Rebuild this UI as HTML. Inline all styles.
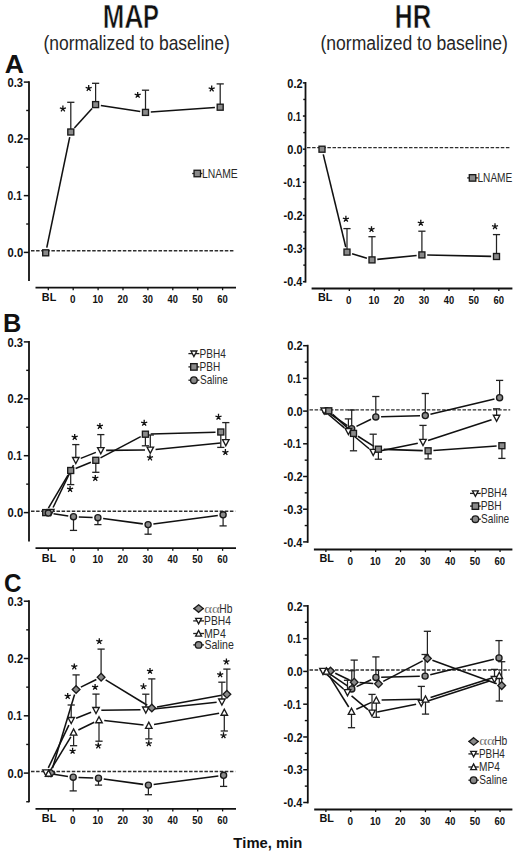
<!DOCTYPE html><html><head><meta charset="utf-8"><style>html,body{margin:0;padding:0;background:#fff;overflow:hidden;}svg{display:block;}text{font-family:"Liberation Sans",sans-serif;font-kerning:none;}</style></head><body>
<svg width="520" height="854" viewBox="0 0 520 854">
<text transform="translate(102.67,27.90) scale(0.7778,1)" font-size="33.28" font-weight="bold" fill="#111" stroke="#fff" stroke-width="0.6">M</text>
<text transform="translate(124.24,27.90) scale(0.8017,1)" font-size="33.28" font-weight="bold" fill="#111" stroke="#fff" stroke-width="0.6">A</text>
<text transform="translate(143.00,27.90) scale(0.7168,1)" font-size="33.28" font-weight="bold" fill="#111" stroke="#fff" stroke-width="0.6">P</text>
<text transform="translate(394.65,27.90) scale(0.7411,1)" font-size="33.28" font-weight="bold" fill="#111" stroke="#fff" stroke-width="0.6">H</text>
<text transform="translate(412.78,27.90) scale(0.7716,1)" font-size="33.28" font-weight="bold" fill="#111" stroke="#fff" stroke-width="0.6">R</text>
<text transform="translate(43.42,50.40) scale(0.8565,1)" font-size="20.4" font-weight="normal" fill="#262626">(normalized to baseline)</text>
<text transform="translate(320.51,50.40) scale(0.8612,1)" font-size="20.4" font-weight="normal" fill="#262626">(normalized to baseline)</text>
<text transform="translate(4.64,72.80) scale(1.0446,1)" font-size="25.4" font-weight="bold" fill="#111">A</text>
<text transform="translate(3.00,332.20) scale(1.0006,1)" font-size="25.4" font-weight="bold" fill="#111">B</text>
<text transform="translate(4.11,591.90) scale(0.9514,1)" font-size="25.4" font-weight="bold" fill="#111">C</text>
<text transform="translate(233.33,847.70) scale(1.0572,1)" font-size="14.0" font-weight="bold" fill="#111">Time, min</text>
<line x1="29.00" y1="81.20" x2="29.00" y2="281.00" stroke="#111" stroke-width="1.8"/>
<line x1="23.80" y1="82.10" x2="29.00" y2="82.10" stroke="#111" stroke-width="1.5"/>
<line x1="23.80" y1="138.87" x2="29.00" y2="138.87" stroke="#111" stroke-width="1.5"/>
<line x1="23.80" y1="195.63" x2="29.00" y2="195.63" stroke="#111" stroke-width="1.5"/>
<line x1="23.80" y1="252.40" x2="29.00" y2="252.40" stroke="#111" stroke-width="1.5"/>
<line x1="26.20" y1="110.48" x2="29.00" y2="110.48" stroke="#111" stroke-width="1.4"/>
<line x1="26.20" y1="167.25" x2="29.00" y2="167.25" stroke="#111" stroke-width="1.4"/>
<line x1="26.20" y1="224.02" x2="29.00" y2="224.02" stroke="#111" stroke-width="1.4"/>
<text transform="translate(7.56,86.70) scale(0.9167,1)" font-size="12.2" font-weight="bold" fill="#111">0.3</text>
<text transform="translate(7.56,143.47) scale(0.9194,1)" font-size="12.2" font-weight="bold" fill="#111">0.2</text>
<text transform="translate(7.59,200.23) scale(0.8428,1)" font-size="12.2" font-weight="bold" fill="#111">0.1</text>
<text transform="translate(7.56,257.00) scale(0.9201,1)" font-size="12.2" font-weight="bold" fill="#111">0.0</text>
<line x1="35.50" y1="287.60" x2="236.00" y2="287.60" stroke="#111" stroke-width="1.8"/>
<line x1="48.30" y1="287.60" x2="48.30" y2="290.20" stroke="#111" stroke-width="1.3"/>
<line x1="73.20" y1="287.60" x2="73.20" y2="290.20" stroke="#111" stroke-width="1.3"/>
<line x1="98.10" y1="287.60" x2="98.10" y2="290.20" stroke="#111" stroke-width="1.3"/>
<line x1="123.00" y1="287.60" x2="123.00" y2="290.20" stroke="#111" stroke-width="1.3"/>
<line x1="147.90" y1="287.60" x2="147.90" y2="290.20" stroke="#111" stroke-width="1.3"/>
<line x1="172.80" y1="287.60" x2="172.80" y2="290.20" stroke="#111" stroke-width="1.3"/>
<line x1="197.70" y1="287.60" x2="197.70" y2="290.20" stroke="#111" stroke-width="1.3"/>
<line x1="222.60" y1="287.60" x2="222.60" y2="290.20" stroke="#111" stroke-width="1.3"/>
<text transform="translate(41.87,300.90) scale(0.9351,1)" font-size="11.6" font-weight="bold" fill="#111">BL</text>
<text transform="translate(69.96,302.80) scale(0.9067,1)" font-size="10.9" font-weight="bold" fill="#111">0</text>
<text transform="translate(92.39,302.80) scale(0.8917,1)" font-size="10.9" font-weight="bold" fill="#111">10</text>
<text transform="translate(117.57,302.80) scale(0.8673,1)" font-size="10.9" font-weight="bold" fill="#111">20</text>
<text transform="translate(142.59,302.80) scale(0.8576,1)" font-size="10.9" font-weight="bold" fill="#111">30</text>
<text transform="translate(167.56,302.80) scale(0.8513,1)" font-size="10.9" font-weight="bold" fill="#111">40</text>
<text transform="translate(192.31,302.80) scale(0.8641,1)" font-size="10.9" font-weight="bold" fill="#111">50</text>
<text transform="translate(217.15,302.80) scale(0.8690,1)" font-size="10.9" font-weight="bold" fill="#111">60</text>
<line x1="31.00" y1="250.80" x2="234.00" y2="250.80" stroke="#2e2e2e" stroke-width="1.4" stroke-dasharray="3.5 1.6"/>
<line x1="46.78" y1="247.61" x2="69.72" y2="137.19" stroke="#111" stroke-width="1.55"/>
<line x1="74.36" y1="128.07" x2="92.04" y2="108.53" stroke="#111" stroke-width="1.55"/>
<line x1="100.84" y1="105.42" x2="140.26" y2="111.58" stroke="#111" stroke-width="1.55"/>
<line x1="150.79" y1="112.03" x2="214.91" y2="107.57" stroke="#111" stroke-width="1.55"/>
<line x1="70.80" y1="132.00" x2="70.80" y2="102.30" stroke="#222" stroke-width="1.25"/>
<line x1="67.20" y1="102.30" x2="74.40" y2="102.30" stroke="#222" stroke-width="1.3"/>
<line x1="95.60" y1="104.60" x2="95.60" y2="83.30" stroke="#222" stroke-width="1.25"/>
<line x1="92.00" y1="83.30" x2="99.20" y2="83.30" stroke="#222" stroke-width="1.3"/>
<line x1="145.50" y1="112.40" x2="145.50" y2="90.20" stroke="#222" stroke-width="1.25"/>
<line x1="141.90" y1="90.20" x2="149.10" y2="90.20" stroke="#222" stroke-width="1.3"/>
<line x1="220.20" y1="107.20" x2="220.20" y2="83.90" stroke="#222" stroke-width="1.25"/>
<line x1="216.60" y1="83.90" x2="223.80" y2="83.90" stroke="#222" stroke-width="1.3"/>
<rect x="42.70" y="249.80" width="6.00" height="6.00" fill="#8a8a8a" stroke="#1a1a1a" stroke-width="1.35"/>
<rect x="67.80" y="129.00" width="6.00" height="6.00" fill="#8a8a8a" stroke="#1a1a1a" stroke-width="1.35"/>
<rect x="92.60" y="101.60" width="6.00" height="6.00" fill="#8a8a8a" stroke="#1a1a1a" stroke-width="1.35"/>
<rect x="142.50" y="109.40" width="6.00" height="6.00" fill="#8a8a8a" stroke="#1a1a1a" stroke-width="1.35"/>
<rect x="217.20" y="104.20" width="6.00" height="6.00" fill="#8a8a8a" stroke="#1a1a1a" stroke-width="1.35"/>
<path d="M62.90,108.80L62.90,105.60M62.90,108.80L65.94,107.81M62.90,108.80L64.78,111.39M62.90,108.80L61.02,111.39M62.90,108.80L59.86,107.81" stroke="#111" stroke-width="1.3" fill="none"/>
<path d="M88.70,88.30L88.70,85.10M88.70,88.30L91.74,87.31M88.70,88.30L90.58,90.89M88.70,88.30L86.82,90.89M88.70,88.30L85.66,87.31" stroke="#111" stroke-width="1.3" fill="none"/>
<path d="M137.70,95.10L137.70,91.90M137.70,95.10L140.74,94.11M137.70,95.10L139.58,97.69M137.70,95.10L135.82,97.69M137.70,95.10L134.66,94.11" stroke="#111" stroke-width="1.3" fill="none"/>
<path d="M211.70,88.80L211.70,85.60M211.70,88.80L214.74,87.81M211.70,88.80L213.58,91.39M211.70,88.80L209.82,91.39M211.70,88.80L208.66,87.81" stroke="#111" stroke-width="1.3" fill="none"/>
<line x1="192.20" y1="173.50" x2="202.40" y2="173.50" stroke="#222" stroke-width="1.3"/>
<rect x="194.06" y="170.26" width="6.48" height="6.48" fill="#8a8a8a" stroke="#1a1a1a" stroke-width="1.35"/>
<text transform="translate(201.95,177.50) scale(0.8659,1)" font-size="12" font-weight="normal" fill="#2a2a2a">LNAME</text>
<line x1="29.00" y1="341.00" x2="29.00" y2="541.50" stroke="#111" stroke-width="1.8"/>
<line x1="23.80" y1="341.90" x2="29.00" y2="341.90" stroke="#111" stroke-width="1.5"/>
<line x1="23.80" y1="398.80" x2="29.00" y2="398.80" stroke="#111" stroke-width="1.5"/>
<line x1="23.80" y1="455.70" x2="29.00" y2="455.70" stroke="#111" stroke-width="1.5"/>
<line x1="23.80" y1="512.60" x2="29.00" y2="512.60" stroke="#111" stroke-width="1.5"/>
<line x1="26.20" y1="370.35" x2="29.00" y2="370.35" stroke="#111" stroke-width="1.4"/>
<line x1="26.20" y1="427.25" x2="29.00" y2="427.25" stroke="#111" stroke-width="1.4"/>
<line x1="26.20" y1="484.15" x2="29.00" y2="484.15" stroke="#111" stroke-width="1.4"/>
<text transform="translate(7.56,346.50) scale(0.9167,1)" font-size="12.2" font-weight="bold" fill="#111">0.3</text>
<text transform="translate(7.56,403.40) scale(0.9194,1)" font-size="12.2" font-weight="bold" fill="#111">0.2</text>
<text transform="translate(7.59,460.30) scale(0.8428,1)" font-size="12.2" font-weight="bold" fill="#111">0.1</text>
<text transform="translate(7.56,517.20) scale(0.9201,1)" font-size="12.2" font-weight="bold" fill="#111">0.0</text>
<line x1="35.50" y1="548.20" x2="236.00" y2="548.20" stroke="#111" stroke-width="1.8"/>
<line x1="48.30" y1="548.20" x2="48.30" y2="550.80" stroke="#111" stroke-width="1.3"/>
<line x1="73.20" y1="548.20" x2="73.20" y2="550.80" stroke="#111" stroke-width="1.3"/>
<line x1="98.10" y1="548.20" x2="98.10" y2="550.80" stroke="#111" stroke-width="1.3"/>
<line x1="123.00" y1="548.20" x2="123.00" y2="550.80" stroke="#111" stroke-width="1.3"/>
<line x1="147.90" y1="548.20" x2="147.90" y2="550.80" stroke="#111" stroke-width="1.3"/>
<line x1="172.80" y1="548.20" x2="172.80" y2="550.80" stroke="#111" stroke-width="1.3"/>
<line x1="197.70" y1="548.20" x2="197.70" y2="550.80" stroke="#111" stroke-width="1.3"/>
<line x1="222.60" y1="548.20" x2="222.60" y2="550.80" stroke="#111" stroke-width="1.3"/>
<text transform="translate(41.87,561.50) scale(0.9351,1)" font-size="11.6" font-weight="bold" fill="#111">BL</text>
<text transform="translate(69.96,563.00) scale(0.9067,1)" font-size="10.9" font-weight="bold" fill="#111">0</text>
<text transform="translate(92.39,563.00) scale(0.8917,1)" font-size="10.9" font-weight="bold" fill="#111">10</text>
<text transform="translate(117.57,563.00) scale(0.8673,1)" font-size="10.9" font-weight="bold" fill="#111">20</text>
<text transform="translate(142.59,563.00) scale(0.8576,1)" font-size="10.9" font-weight="bold" fill="#111">30</text>
<text transform="translate(167.56,563.00) scale(0.8513,1)" font-size="10.9" font-weight="bold" fill="#111">40</text>
<text transform="translate(192.31,563.00) scale(0.8641,1)" font-size="10.9" font-weight="bold" fill="#111">50</text>
<text transform="translate(217.15,563.00) scale(0.8690,1)" font-size="10.9" font-weight="bold" fill="#111">60</text>
<line x1="31.00" y1="511.20" x2="235.20" y2="511.20" stroke="#2e2e2e" stroke-width="1.4" stroke-dasharray="3.5 1.6"/>
<line x1="53.10" y1="507.52" x2="73.50" y2="465.08" stroke="#111" stroke-width="1.55"/>
<line x1="80.73" y1="458.35" x2="95.87" y2="452.35" stroke="#111" stroke-width="1.55"/>
<line x1="106.10" y1="450.36" x2="145.00" y2="450.04" stroke="#111" stroke-width="1.55"/>
<line x1="155.57" y1="449.48" x2="220.53" y2="443.02" stroke="#111" stroke-width="1.55"/>
<line x1="48.41" y1="508.04" x2="67.99" y2="475.06" stroke="#111" stroke-width="1.55"/>
<line x1="75.61" y1="468.50" x2="90.89" y2="462.30" stroke="#111" stroke-width="1.55"/>
<line x1="100.49" y1="457.83" x2="140.71" y2="436.67" stroke="#111" stroke-width="1.55"/>
<line x1="150.70" y1="434.05" x2="215.50" y2="432.15" stroke="#111" stroke-width="1.55"/>
<line x1="53.54" y1="513.77" x2="68.26" y2="515.93" stroke="#111" stroke-width="1.55"/>
<line x1="78.80" y1="516.92" x2="92.60" y2="517.48" stroke="#111" stroke-width="1.55"/>
<line x1="103.15" y1="518.42" x2="142.85" y2="523.88" stroke="#111" stroke-width="1.55"/>
<line x1="153.36" y1="523.91" x2="217.84" y2="515.49" stroke="#111" stroke-width="1.55"/>
<line x1="73.50" y1="516.70" x2="73.50" y2="530.40" stroke="#222" stroke-width="1.25"/>
<line x1="69.90" y1="530.40" x2="77.10" y2="530.40" stroke="#222" stroke-width="1.3"/>
<line x1="97.90" y1="517.70" x2="97.90" y2="524.60" stroke="#222" stroke-width="1.25"/>
<line x1="94.30" y1="524.60" x2="101.50" y2="524.60" stroke="#222" stroke-width="1.3"/>
<line x1="148.10" y1="524.60" x2="148.10" y2="534.20" stroke="#222" stroke-width="1.25"/>
<line x1="144.50" y1="534.20" x2="151.70" y2="534.20" stroke="#222" stroke-width="1.3"/>
<line x1="223.10" y1="514.80" x2="223.10" y2="525.90" stroke="#222" stroke-width="1.25"/>
<line x1="219.50" y1="525.90" x2="226.70" y2="525.90" stroke="#222" stroke-width="1.3"/>
<line x1="70.70" y1="470.50" x2="70.70" y2="484.60" stroke="#222" stroke-width="1.25"/>
<line x1="67.10" y1="484.60" x2="74.30" y2="484.60" stroke="#222" stroke-width="1.3"/>
<line x1="95.80" y1="460.30" x2="95.80" y2="472.30" stroke="#222" stroke-width="1.25"/>
<line x1="92.20" y1="472.30" x2="99.40" y2="472.30" stroke="#222" stroke-width="1.3"/>
<line x1="145.40" y1="434.20" x2="145.40" y2="445.80" stroke="#222" stroke-width="1.25"/>
<line x1="141.80" y1="445.80" x2="149.00" y2="445.80" stroke="#222" stroke-width="1.3"/>
<line x1="220.80" y1="432.00" x2="220.80" y2="447.40" stroke="#222" stroke-width="1.25"/>
<line x1="217.20" y1="447.40" x2="224.40" y2="447.40" stroke="#222" stroke-width="1.3"/>
<line x1="75.80" y1="460.30" x2="75.80" y2="444.60" stroke="#222" stroke-width="1.25"/>
<line x1="72.20" y1="444.60" x2="79.40" y2="444.60" stroke="#222" stroke-width="1.3"/>
<line x1="100.80" y1="450.40" x2="100.80" y2="434.60" stroke="#222" stroke-width="1.25"/>
<line x1="97.20" y1="434.60" x2="104.40" y2="434.60" stroke="#222" stroke-width="1.3"/>
<line x1="150.30" y1="450.00" x2="150.30" y2="435.00" stroke="#222" stroke-width="1.25"/>
<line x1="146.70" y1="435.00" x2="153.90" y2="435.00" stroke="#222" stroke-width="1.3"/>
<line x1="225.80" y1="442.50" x2="225.80" y2="422.60" stroke="#222" stroke-width="1.25"/>
<line x1="222.20" y1="422.60" x2="229.40" y2="422.60" stroke="#222" stroke-width="1.3"/>
<rect x="42.70" y="509.60" width="6.00" height="6.00" fill="#8a8a8a" stroke="#1a1a1a" stroke-width="1.35"/>
<rect x="67.70" y="467.50" width="6.00" height="6.00" fill="#8a8a8a" stroke="#1a1a1a" stroke-width="1.35"/>
<rect x="92.80" y="457.30" width="6.00" height="6.00" fill="#8a8a8a" stroke="#1a1a1a" stroke-width="1.35"/>
<rect x="142.40" y="431.20" width="6.00" height="6.00" fill="#8a8a8a" stroke="#1a1a1a" stroke-width="1.35"/>
<rect x="217.80" y="429.00" width="6.00" height="6.00" fill="#8a8a8a" stroke="#1a1a1a" stroke-width="1.35"/>
<path d="M47.55,509.45H54.05L50.80,515.60Z" fill="#fff" stroke="#1a1a1a" stroke-width="1.35"/>
<path d="M72.55,457.45H79.05L75.80,463.60Z" fill="#fff" stroke="#1a1a1a" stroke-width="1.35"/>
<path d="M97.55,447.55H104.05L100.80,453.70Z" fill="#fff" stroke="#1a1a1a" stroke-width="1.35"/>
<path d="M147.05,447.15H153.55L150.30,453.30Z" fill="#fff" stroke="#1a1a1a" stroke-width="1.35"/>
<path d="M222.55,439.65H229.05L225.80,445.80Z" fill="#fff" stroke="#1a1a1a" stroke-width="1.35"/>
<circle cx="48.30" cy="513.00" r="3.05" fill="#8a8a8a" stroke="#1a1a1a" stroke-width="1.35"/>
<circle cx="73.50" cy="516.70" r="3.05" fill="#8a8a8a" stroke="#1a1a1a" stroke-width="1.35"/>
<circle cx="97.90" cy="517.70" r="3.05" fill="#8a8a8a" stroke="#1a1a1a" stroke-width="1.35"/>
<circle cx="148.10" cy="524.60" r="3.05" fill="#8a8a8a" stroke="#1a1a1a" stroke-width="1.35"/>
<circle cx="223.10" cy="514.80" r="3.05" fill="#8a8a8a" stroke="#1a1a1a" stroke-width="1.35"/>
<path d="M74.70,437.20L74.70,434.00M74.70,437.20L77.74,436.21M74.70,437.20L76.58,439.79M74.70,437.20L72.82,439.79M74.70,437.20L71.66,436.21" stroke="#111" stroke-width="1.3" fill="none"/>
<path d="M99.90,426.20L99.90,423.00M99.90,426.20L102.94,425.21M99.90,426.20L101.78,428.79M99.90,426.20L98.02,428.79M99.90,426.20L96.86,425.21" stroke="#111" stroke-width="1.3" fill="none"/>
<path d="M150.00,457.70L150.00,454.50M150.00,457.70L153.04,456.71M150.00,457.70L151.88,460.29M150.00,457.70L148.12,460.29M150.00,457.70L146.96,456.71" stroke="#111" stroke-width="1.3" fill="none"/>
<path d="M225.40,452.30L225.40,449.10M225.40,452.30L228.44,451.31M225.40,452.30L227.28,454.89M225.40,452.30L223.52,454.89M225.40,452.30L222.36,451.31" stroke="#111" stroke-width="1.3" fill="none"/>
<path d="M70.10,489.20L70.10,486.00M70.10,489.20L73.14,488.21M70.10,489.20L71.98,491.79M70.10,489.20L68.22,491.79M70.10,489.20L67.06,488.21" stroke="#111" stroke-width="1.3" fill="none"/>
<path d="M95.30,478.20L95.30,475.00M95.30,478.20L98.34,477.21M95.30,478.20L97.18,480.79M95.30,478.20L93.42,480.79M95.30,478.20L92.26,477.21" stroke="#111" stroke-width="1.3" fill="none"/>
<path d="M144.20,423.00L144.20,419.80M144.20,423.00L147.24,422.01M144.20,423.00L146.08,425.59M144.20,423.00L142.32,425.59M144.20,423.00L141.16,422.01" stroke="#111" stroke-width="1.3" fill="none"/>
<path d="M218.50,417.00L218.50,413.80M218.50,417.00L221.54,416.01M218.50,417.00L220.38,419.59M218.50,417.00L216.62,419.59M218.50,417.00L215.46,416.01" stroke="#111" stroke-width="1.3" fill="none"/>
<line x1="188.40" y1="353.60" x2="199.40" y2="353.60" stroke="#222" stroke-width="1.3"/>
<path d="M190.97,351.04H196.83L193.90,356.57Z" fill="#fff" stroke="#1a1a1a" stroke-width="1.35"/>
<text transform="translate(199.57,357.60) scale(0.8397,1)" font-size="12" font-weight="normal" fill="#2a2a2a">PBH4</text>
<line x1="188.40" y1="366.90" x2="199.40" y2="366.90" stroke="#222" stroke-width="1.3"/>
<rect x="190.66" y="363.66" width="6.48" height="6.48" fill="#8a8a8a" stroke="#1a1a1a" stroke-width="1.35"/>
<text transform="translate(199.57,370.90) scale(0.8410,1)" font-size="12" font-weight="normal" fill="#2a2a2a">PBH</text>
<line x1="188.40" y1="380.20" x2="199.40" y2="380.20" stroke="#222" stroke-width="1.3"/>
<circle cx="193.90" cy="380.20" r="3.29" fill="#8a8a8a" stroke="#1a1a1a" stroke-width="1.35"/>
<text transform="translate(199.94,384.20) scale(0.8364,1)" font-size="12" font-weight="normal" fill="#2a2a2a">Saline</text>
<line x1="29.00" y1="600.30" x2="29.00" y2="802.30" stroke="#111" stroke-width="1.8"/>
<line x1="23.80" y1="601.20" x2="29.00" y2="601.20" stroke="#111" stroke-width="1.5"/>
<line x1="23.80" y1="658.50" x2="29.00" y2="658.50" stroke="#111" stroke-width="1.5"/>
<line x1="23.80" y1="715.80" x2="29.00" y2="715.80" stroke="#111" stroke-width="1.5"/>
<line x1="23.80" y1="773.10" x2="29.00" y2="773.10" stroke="#111" stroke-width="1.5"/>
<line x1="26.20" y1="629.85" x2="29.00" y2="629.85" stroke="#111" stroke-width="1.4"/>
<line x1="26.20" y1="687.15" x2="29.00" y2="687.15" stroke="#111" stroke-width="1.4"/>
<line x1="26.20" y1="744.45" x2="29.00" y2="744.45" stroke="#111" stroke-width="1.4"/>
<line x1="26.20" y1="801.75" x2="29.00" y2="801.75" stroke="#111" stroke-width="1.4"/>
<text transform="translate(7.56,605.80) scale(0.9167,1)" font-size="12.2" font-weight="bold" fill="#111">0.3</text>
<text transform="translate(7.56,663.10) scale(0.9194,1)" font-size="12.2" font-weight="bold" fill="#111">0.2</text>
<text transform="translate(7.59,720.40) scale(0.8428,1)" font-size="12.2" font-weight="bold" fill="#111">0.1</text>
<text transform="translate(7.56,777.70) scale(0.9201,1)" font-size="12.2" font-weight="bold" fill="#111">0.0</text>
<line x1="35.50" y1="808.80" x2="236.00" y2="808.80" stroke="#111" stroke-width="1.8"/>
<line x1="48.30" y1="808.80" x2="48.30" y2="811.40" stroke="#111" stroke-width="1.3"/>
<line x1="73.20" y1="808.80" x2="73.20" y2="811.40" stroke="#111" stroke-width="1.3"/>
<line x1="98.10" y1="808.80" x2="98.10" y2="811.40" stroke="#111" stroke-width="1.3"/>
<line x1="123.00" y1="808.80" x2="123.00" y2="811.40" stroke="#111" stroke-width="1.3"/>
<line x1="147.90" y1="808.80" x2="147.90" y2="811.40" stroke="#111" stroke-width="1.3"/>
<line x1="172.80" y1="808.80" x2="172.80" y2="811.40" stroke="#111" stroke-width="1.3"/>
<line x1="197.70" y1="808.80" x2="197.70" y2="811.40" stroke="#111" stroke-width="1.3"/>
<line x1="222.60" y1="808.80" x2="222.60" y2="811.40" stroke="#111" stroke-width="1.3"/>
<text transform="translate(41.87,822.30) scale(0.9351,1)" font-size="11.6" font-weight="bold" fill="#111">BL</text>
<text transform="translate(69.96,823.60) scale(0.9067,1)" font-size="10.9" font-weight="bold" fill="#111">0</text>
<text transform="translate(92.39,823.60) scale(0.8917,1)" font-size="10.9" font-weight="bold" fill="#111">10</text>
<text transform="translate(117.57,823.60) scale(0.8673,1)" font-size="10.9" font-weight="bold" fill="#111">20</text>
<text transform="translate(142.59,823.60) scale(0.8576,1)" font-size="10.9" font-weight="bold" fill="#111">30</text>
<text transform="translate(167.56,823.60) scale(0.8513,1)" font-size="10.9" font-weight="bold" fill="#111">40</text>
<text transform="translate(192.31,823.60) scale(0.8641,1)" font-size="10.9" font-weight="bold" fill="#111">50</text>
<text transform="translate(217.15,823.60) scale(0.8690,1)" font-size="10.9" font-weight="bold" fill="#111">60</text>
<line x1="31.00" y1="771.50" x2="235.20" y2="771.50" stroke="#2e2e2e" stroke-width="1.4" stroke-dasharray="3.5 1.6"/>
<line x1="52.53" y1="767.92" x2="74.57" y2="694.58" stroke="#111" stroke-width="1.55"/>
<line x1="80.86" y1="687.16" x2="96.34" y2="679.54" stroke="#111" stroke-width="1.55"/>
<line x1="105.63" y1="679.95" x2="147.27" y2="705.25" stroke="#111" stroke-width="1.55"/>
<line x1="157.01" y1="707.05" x2="221.69" y2="695.25" stroke="#111" stroke-width="1.55"/>
<line x1="48.30" y1="767.92" x2="68.90" y2="725.08" stroke="#111" stroke-width="1.55"/>
<line x1="76.12" y1="718.32" x2="91.08" y2="712.28" stroke="#111" stroke-width="1.55"/>
<line x1="101.30" y1="710.25" x2="140.50" y2="709.85" stroke="#111" stroke-width="1.55"/>
<line x1="151.07" y1="709.25" x2="216.63" y2="702.35" stroke="#111" stroke-width="1.55"/>
<line x1="51.35" y1="768.87" x2="70.85" y2="736.83" stroke="#111" stroke-width="1.55"/>
<line x1="78.36" y1="729.97" x2="94.24" y2="722.23" stroke="#111" stroke-width="1.55"/>
<line x1="104.27" y1="720.49" x2="143.53" y2="724.91" stroke="#111" stroke-width="1.55"/>
<line x1="154.02" y1="724.59" x2="219.08" y2="713.31" stroke="#111" stroke-width="1.55"/>
<line x1="53.74" y1="774.29" x2="67.96" y2="776.41" stroke="#111" stroke-width="1.55"/>
<line x1="78.50" y1="777.41" x2="93.20" y2="777.99" stroke="#111" stroke-width="1.55"/>
<line x1="103.75" y1="778.93" x2="143.15" y2="784.37" stroke="#111" stroke-width="1.55"/>
<line x1="153.66" y1="784.42" x2="218.34" y2="775.98" stroke="#111" stroke-width="1.55"/>
<line x1="73.20" y1="777.20" x2="73.20" y2="790.90" stroke="#222" stroke-width="1.25"/>
<line x1="69.60" y1="790.90" x2="76.80" y2="790.90" stroke="#222" stroke-width="1.3"/>
<line x1="98.50" y1="778.20" x2="98.50" y2="785.10" stroke="#222" stroke-width="1.25"/>
<line x1="94.90" y1="785.10" x2="102.10" y2="785.10" stroke="#222" stroke-width="1.3"/>
<line x1="148.40" y1="785.10" x2="148.40" y2="794.70" stroke="#222" stroke-width="1.25"/>
<line x1="144.80" y1="794.70" x2="152.00" y2="794.70" stroke="#222" stroke-width="1.3"/>
<line x1="223.60" y1="775.30" x2="223.60" y2="786.40" stroke="#222" stroke-width="1.25"/>
<line x1="220.00" y1="786.40" x2="227.20" y2="786.40" stroke="#222" stroke-width="1.3"/>
<line x1="73.60" y1="732.30" x2="73.60" y2="745.70" stroke="#222" stroke-width="1.25"/>
<line x1="70.00" y1="745.70" x2="77.20" y2="745.70" stroke="#222" stroke-width="1.3"/>
<line x1="99.00" y1="719.90" x2="99.00" y2="741.20" stroke="#222" stroke-width="1.25"/>
<line x1="95.40" y1="741.20" x2="102.60" y2="741.20" stroke="#222" stroke-width="1.3"/>
<line x1="148.80" y1="725.50" x2="148.80" y2="738.90" stroke="#222" stroke-width="1.25"/>
<line x1="145.20" y1="738.90" x2="152.40" y2="738.90" stroke="#222" stroke-width="1.3"/>
<line x1="224.30" y1="712.40" x2="224.30" y2="731.00" stroke="#222" stroke-width="1.25"/>
<line x1="220.70" y1="731.00" x2="227.90" y2="731.00" stroke="#222" stroke-width="1.3"/>
<line x1="71.20" y1="720.30" x2="71.20" y2="705.00" stroke="#222" stroke-width="1.25"/>
<line x1="67.60" y1="705.00" x2="74.80" y2="705.00" stroke="#222" stroke-width="1.3"/>
<line x1="96.00" y1="710.30" x2="96.00" y2="694.10" stroke="#222" stroke-width="1.25"/>
<line x1="92.40" y1="694.10" x2="99.60" y2="694.10" stroke="#222" stroke-width="1.3"/>
<line x1="145.80" y1="709.80" x2="145.80" y2="694.20" stroke="#222" stroke-width="1.25"/>
<line x1="142.20" y1="694.20" x2="149.40" y2="694.20" stroke="#222" stroke-width="1.3"/>
<line x1="221.90" y1="701.80" x2="221.90" y2="682.20" stroke="#222" stroke-width="1.25"/>
<line x1="218.30" y1="682.20" x2="225.50" y2="682.20" stroke="#222" stroke-width="1.3"/>
<line x1="76.10" y1="689.50" x2="76.10" y2="674.90" stroke="#222" stroke-width="1.25"/>
<line x1="72.50" y1="674.90" x2="79.70" y2="674.90" stroke="#222" stroke-width="1.3"/>
<line x1="101.10" y1="677.20" x2="101.10" y2="649.10" stroke="#222" stroke-width="1.25"/>
<line x1="97.50" y1="649.10" x2="104.70" y2="649.10" stroke="#222" stroke-width="1.3"/>
<line x1="151.80" y1="708.00" x2="151.80" y2="678.90" stroke="#222" stroke-width="1.25"/>
<line x1="148.20" y1="678.90" x2="155.40" y2="678.90" stroke="#222" stroke-width="1.3"/>
<line x1="226.90" y1="694.30" x2="226.90" y2="669.10" stroke="#222" stroke-width="1.25"/>
<line x1="223.30" y1="669.10" x2="230.50" y2="669.10" stroke="#222" stroke-width="1.3"/>
<circle cx="48.50" cy="773.50" r="3.05" fill="#8a8a8a" stroke="#1a1a1a" stroke-width="1.35"/>
<circle cx="73.20" cy="777.20" r="3.05" fill="#8a8a8a" stroke="#1a1a1a" stroke-width="1.35"/>
<circle cx="98.50" cy="778.20" r="3.05" fill="#8a8a8a" stroke="#1a1a1a" stroke-width="1.35"/>
<circle cx="148.40" cy="785.10" r="3.05" fill="#8a8a8a" stroke="#1a1a1a" stroke-width="1.35"/>
<circle cx="223.60" cy="775.30" r="3.05" fill="#8a8a8a" stroke="#1a1a1a" stroke-width="1.35"/>
<path d="M42.75,769.85H49.25L46.00,776.00Z" fill="#fff" stroke="#1a1a1a" stroke-width="1.35"/>
<path d="M67.95,717.45H74.45L71.20,723.60Z" fill="#fff" stroke="#1a1a1a" stroke-width="1.35"/>
<path d="M92.75,707.45H99.25L96.00,713.60Z" fill="#fff" stroke="#1a1a1a" stroke-width="1.35"/>
<path d="M142.55,706.95H149.05L145.80,713.10Z" fill="#fff" stroke="#1a1a1a" stroke-width="1.35"/>
<path d="M218.65,698.95H225.15L221.90,705.10Z" fill="#fff" stroke="#1a1a1a" stroke-width="1.35"/>
<path d="M51.00,769.15L54.85,773.00L51.00,776.85L47.15,773.00Z" fill="#8a8a8a" stroke="#1a1a1a" stroke-width="1.35"/>
<path d="M76.10,685.65L79.95,689.50L76.10,693.35L72.25,689.50Z" fill="#8a8a8a" stroke="#1a1a1a" stroke-width="1.35"/>
<path d="M101.10,673.35L104.95,677.20L101.10,681.05L97.25,677.20Z" fill="#8a8a8a" stroke="#1a1a1a" stroke-width="1.35"/>
<path d="M151.80,704.15L155.65,708.00L151.80,711.85L147.95,708.00Z" fill="#8a8a8a" stroke="#1a1a1a" stroke-width="1.35"/>
<path d="M226.90,690.45L230.75,694.30L226.90,698.15L223.05,694.30Z" fill="#8a8a8a" stroke="#1a1a1a" stroke-width="1.35"/>
<path d="M45.35,776.25H51.85L48.60,770.10Z" fill="#fff" stroke="#1a1a1a" stroke-width="1.35"/>
<path d="M70.35,735.15H76.85L73.60,729.00Z" fill="#fff" stroke="#1a1a1a" stroke-width="1.35"/>
<path d="M95.75,722.75H102.25L99.00,716.60Z" fill="#fff" stroke="#1a1a1a" stroke-width="1.35"/>
<path d="M145.55,728.35H152.05L148.80,722.20Z" fill="#fff" stroke="#1a1a1a" stroke-width="1.35"/>
<path d="M221.05,715.25H227.55L224.30,709.10Z" fill="#fff" stroke="#1a1a1a" stroke-width="1.35"/>
<path d="M74.30,666.70L74.30,663.50M74.30,666.70L77.34,665.71M74.30,666.70L76.18,669.29M74.30,666.70L72.42,669.29M74.30,666.70L71.26,665.71" stroke="#111" stroke-width="1.3" fill="none"/>
<path d="M99.30,641.40L99.30,638.20M99.30,641.40L102.34,640.41M99.30,641.40L101.18,643.99M99.30,641.40L97.42,643.99M99.30,641.40L96.26,640.41" stroke="#111" stroke-width="1.3" fill="none"/>
<path d="M150.00,671.10L150.00,667.90M150.00,671.10L153.04,670.11M150.00,671.10L151.88,673.69M150.00,671.10L148.12,673.69M150.00,671.10L146.96,670.11" stroke="#111" stroke-width="1.3" fill="none"/>
<path d="M226.40,661.70L226.40,658.50M226.40,661.70L229.44,660.71M226.40,661.70L228.28,664.29M226.40,661.70L224.52,664.29M226.40,661.70L223.36,660.71" stroke="#111" stroke-width="1.3" fill="none"/>
<path d="M67.70,696.20L67.70,693.00M67.70,696.20L70.74,695.21M67.70,696.20L69.58,698.79M67.70,696.20L65.82,698.79M67.70,696.20L64.66,695.21" stroke="#111" stroke-width="1.3" fill="none"/>
<path d="M95.10,687.10L95.10,683.90M95.10,687.10L98.14,686.11M95.10,687.10L96.98,689.69M95.10,687.10L93.22,689.69M95.10,687.10L92.06,686.11" stroke="#111" stroke-width="1.3" fill="none"/>
<path d="M143.50,686.50L143.50,683.30M143.50,686.50L146.54,685.51M143.50,686.50L145.38,689.09M143.50,686.50L141.62,689.09M143.50,686.50L140.46,685.51" stroke="#111" stroke-width="1.3" fill="none"/>
<path d="M220.20,674.60L220.20,671.40M220.20,674.60L223.24,673.61M220.20,674.60L222.08,677.19M220.20,674.60L218.32,677.19M220.20,674.60L217.16,673.61" stroke="#111" stroke-width="1.3" fill="none"/>
<path d="M72.60,751.00L72.60,747.80M72.60,751.00L75.64,750.01M72.60,751.00L74.48,753.59M72.60,751.00L70.72,753.59M72.60,751.00L69.56,750.01" stroke="#111" stroke-width="1.3" fill="none"/>
<path d="M98.30,745.70L98.30,742.50M98.30,745.70L101.34,744.71M98.30,745.70L100.18,748.29M98.30,745.70L96.42,748.29M98.30,745.70L95.26,744.71" stroke="#111" stroke-width="1.3" fill="none"/>
<path d="M148.80,743.50L148.80,740.30M148.80,743.50L151.84,742.51M148.80,743.50L150.68,746.09M148.80,743.50L146.92,746.09M148.80,743.50L145.76,742.51" stroke="#111" stroke-width="1.3" fill="none"/>
<path d="M223.50,735.50L223.50,732.30M223.50,735.50L226.54,734.51M223.50,735.50L225.38,738.09M223.50,735.50L221.62,738.09M223.50,735.50L220.46,734.51" stroke="#111" stroke-width="1.3" fill="none"/>
<line x1="193.20" y1="608.60" x2="204.00" y2="608.60" stroke="#222" stroke-width="1.3"/>
<path d="M198.60,604.85L203.15,608.60L198.60,612.35L194.05,608.60Z" fill="#8a8a8a" stroke="#1a1a1a" stroke-width="1.35"/>
<text transform="translate(204.34,612.60) scale(1.2895,1)" font-size="11.5" font-weight="normal" fill="#777" style="font-family:'Liberation Serif',serif">&#945;&#945;</text>
<text transform="translate(219.30,612.60) scale(0.8562,1)" font-size="12" font-weight="normal" fill="#2a2a2a">Hb</text>
<line x1="193.20" y1="620.90" x2="204.00" y2="620.90" stroke="#222" stroke-width="1.3"/>
<path d="M195.67,618.33H201.53L198.60,623.87Z" fill="#fff" stroke="#1a1a1a" stroke-width="1.35"/>
<text transform="translate(204.06,624.90) scale(0.8563,1)" font-size="12" font-weight="normal" fill="#2a2a2a">PBH4</text>
<line x1="193.20" y1="633.50" x2="204.00" y2="633.50" stroke="#222" stroke-width="1.3"/>
<path d="M195.67,636.07H201.53L198.60,630.53Z" fill="#fff" stroke="#1a1a1a" stroke-width="1.35"/>
<text transform="translate(204.03,637.50) scale(0.8827,1)" font-size="12" font-weight="normal" fill="#2a2a2a">MP4</text>
<line x1="193.20" y1="644.90" x2="204.00" y2="644.90" stroke="#222" stroke-width="1.3"/>
<circle cx="198.60" cy="644.90" r="3.29" fill="#8a8a8a" stroke="#1a1a1a" stroke-width="1.35"/>
<text transform="translate(204.42,648.90) scale(0.8829,1)" font-size="12" font-weight="normal" fill="#2a2a2a">Saline</text>
<line x1="305.50" y1="82.00" x2="305.50" y2="282.60" stroke="#111" stroke-width="1.8"/>
<line x1="302.90" y1="82.90" x2="305.50" y2="82.90" stroke="#111" stroke-width="1.5"/>
<text transform="translate(287.37,87.50) scale(0.9006,1)" font-size="12.2" font-weight="bold" fill="#111">0.2</text>
<line x1="302.90" y1="116.03" x2="305.50" y2="116.03" stroke="#111" stroke-width="1.5"/>
<text transform="translate(287.62,120.63) scale(0.7932,1)" font-size="12.2" font-weight="bold" fill="#111">0.1</text>
<line x1="302.90" y1="149.17" x2="305.50" y2="149.17" stroke="#111" stroke-width="1.5"/>
<text transform="translate(287.37,153.77) scale(0.9013,1)" font-size="12.2" font-weight="bold" fill="#111">0.0</text>
<line x1="302.90" y1="182.30" x2="305.50" y2="182.30" stroke="#111" stroke-width="1.5"/>
<text transform="translate(283.60,186.90) scale(0.8314,1)" font-size="12.2" font-weight="bold" fill="#111">-0.1</text>
<line x1="302.90" y1="215.43" x2="305.50" y2="215.43" stroke="#111" stroke-width="1.5"/>
<text transform="translate(283.57,220.03) scale(0.9074,1)" font-size="12.2" font-weight="bold" fill="#111">-0.2</text>
<line x1="302.90" y1="248.57" x2="305.50" y2="248.57" stroke="#111" stroke-width="1.5"/>
<text transform="translate(283.57,253.17) scale(0.9052,1)" font-size="12.2" font-weight="bold" fill="#111">-0.3</text>
<line x1="302.90" y1="281.70" x2="305.50" y2="281.70" stroke="#111" stroke-width="1.5"/>
<text transform="translate(283.58,286.30) scale(0.8887,1)" font-size="12.2" font-weight="bold" fill="#111">-0.4</text>
<line x1="303.30" y1="99.47" x2="305.50" y2="99.47" stroke="#111" stroke-width="1.4"/>
<line x1="303.30" y1="132.60" x2="305.50" y2="132.60" stroke="#111" stroke-width="1.4"/>
<line x1="303.30" y1="165.73" x2="305.50" y2="165.73" stroke="#111" stroke-width="1.4"/>
<line x1="303.30" y1="198.87" x2="305.50" y2="198.87" stroke="#111" stroke-width="1.4"/>
<line x1="303.30" y1="232.00" x2="305.50" y2="232.00" stroke="#111" stroke-width="1.4"/>
<line x1="303.30" y1="265.13" x2="305.50" y2="265.13" stroke="#111" stroke-width="1.4"/>
<line x1="311.60" y1="288.50" x2="512.40" y2="288.50" stroke="#111" stroke-width="1.8"/>
<line x1="324.40" y1="288.50" x2="324.40" y2="291.10" stroke="#111" stroke-width="1.3"/>
<line x1="349.32" y1="288.50" x2="349.32" y2="291.10" stroke="#111" stroke-width="1.3"/>
<line x1="374.24" y1="288.50" x2="374.24" y2="291.10" stroke="#111" stroke-width="1.3"/>
<line x1="399.16" y1="288.50" x2="399.16" y2="291.10" stroke="#111" stroke-width="1.3"/>
<line x1="424.08" y1="288.50" x2="424.08" y2="291.10" stroke="#111" stroke-width="1.3"/>
<line x1="449.00" y1="288.50" x2="449.00" y2="291.10" stroke="#111" stroke-width="1.3"/>
<line x1="473.92" y1="288.50" x2="473.92" y2="291.10" stroke="#111" stroke-width="1.3"/>
<line x1="498.84" y1="288.50" x2="498.84" y2="291.10" stroke="#111" stroke-width="1.3"/>
<text transform="translate(317.97,301.20) scale(0.9351,1)" font-size="11.6" font-weight="bold" fill="#111">BL</text>
<text transform="translate(346.08,303.50) scale(0.9067,1)" font-size="10.9" font-weight="bold" fill="#111">0</text>
<text transform="translate(368.53,303.50) scale(0.8917,1)" font-size="10.9" font-weight="bold" fill="#111">10</text>
<text transform="translate(393.73,303.50) scale(0.8673,1)" font-size="10.9" font-weight="bold" fill="#111">20</text>
<text transform="translate(418.77,303.50) scale(0.8576,1)" font-size="10.9" font-weight="bold" fill="#111">30</text>
<text transform="translate(443.76,303.50) scale(0.8513,1)" font-size="10.9" font-weight="bold" fill="#111">40</text>
<text transform="translate(468.53,303.50) scale(0.8641,1)" font-size="10.9" font-weight="bold" fill="#111">50</text>
<text transform="translate(493.39,303.50) scale(0.8690,1)" font-size="10.9" font-weight="bold" fill="#111">60</text>
<line x1="307.00" y1="147.60" x2="510.40" y2="147.60" stroke="#2e2e2e" stroke-width="1.4" stroke-dasharray="3.5 1.6"/>
<line x1="323.25" y1="154.35" x2="345.75" y2="246.95" stroke="#111" stroke-width="1.55"/>
<line x1="352.06" y1="253.68" x2="366.94" y2="258.32" stroke="#111" stroke-width="1.55"/>
<line x1="377.27" y1="259.37" x2="416.63" y2="255.43" stroke="#111" stroke-width="1.55"/>
<line x1="427.20" y1="255.01" x2="491.20" y2="256.39" stroke="#111" stroke-width="1.55"/>
<line x1="347.00" y1="252.10" x2="347.00" y2="228.60" stroke="#222" stroke-width="1.25"/>
<line x1="343.40" y1="228.60" x2="350.60" y2="228.60" stroke="#222" stroke-width="1.3"/>
<line x1="372.00" y1="259.90" x2="372.00" y2="236.70" stroke="#222" stroke-width="1.25"/>
<line x1="368.40" y1="236.70" x2="375.60" y2="236.70" stroke="#222" stroke-width="1.3"/>
<line x1="421.90" y1="254.90" x2="421.90" y2="231.20" stroke="#222" stroke-width="1.25"/>
<line x1="418.30" y1="231.20" x2="425.50" y2="231.20" stroke="#222" stroke-width="1.3"/>
<line x1="496.50" y1="256.50" x2="496.50" y2="234.60" stroke="#222" stroke-width="1.25"/>
<line x1="492.90" y1="234.60" x2="500.10" y2="234.60" stroke="#222" stroke-width="1.3"/>
<rect x="319.00" y="146.20" width="6.00" height="6.00" fill="#8a8a8a" stroke="#1a1a1a" stroke-width="1.35"/>
<rect x="344.00" y="249.10" width="6.00" height="6.00" fill="#8a8a8a" stroke="#1a1a1a" stroke-width="1.35"/>
<rect x="369.00" y="256.90" width="6.00" height="6.00" fill="#8a8a8a" stroke="#1a1a1a" stroke-width="1.35"/>
<rect x="418.90" y="251.90" width="6.00" height="6.00" fill="#8a8a8a" stroke="#1a1a1a" stroke-width="1.35"/>
<rect x="493.50" y="253.50" width="6.00" height="6.00" fill="#8a8a8a" stroke="#1a1a1a" stroke-width="1.35"/>
<path d="M345.90,219.00L345.90,215.80M345.90,219.00L348.94,218.01M345.90,219.00L347.78,221.59M345.90,219.00L344.02,221.59M345.90,219.00L342.86,218.01" stroke="#111" stroke-width="1.3" fill="none"/>
<path d="M371.50,229.40L371.50,226.20M371.50,229.40L374.54,228.41M371.50,229.40L373.38,231.99M371.50,229.40L369.62,231.99M371.50,229.40L368.46,228.41" stroke="#111" stroke-width="1.3" fill="none"/>
<path d="M420.80,223.00L420.80,219.80M420.80,223.00L423.84,222.01M420.80,223.00L422.68,225.59M420.80,223.00L418.92,225.59M420.80,223.00L417.76,222.01" stroke="#111" stroke-width="1.3" fill="none"/>
<path d="M495.00,226.50L495.00,223.30M495.00,226.50L498.04,225.51M495.00,226.50L496.88,229.09M495.00,226.50L493.12,229.09M495.00,226.50L491.96,225.51" stroke="#111" stroke-width="1.3" fill="none"/>
<line x1="467.20" y1="177.90" x2="477.90" y2="177.90" stroke="#222" stroke-width="1.3"/>
<rect x="469.31" y="174.66" width="6.48" height="6.48" fill="#8a8a8a" stroke="#1a1a1a" stroke-width="1.35"/>
<text transform="translate(477.47,181.90) scale(0.8433,1)" font-size="12" font-weight="normal" fill="#2a2a2a">LNAME</text>
<line x1="307.70" y1="344.80" x2="307.70" y2="542.80" stroke="#111" stroke-width="1.8"/>
<line x1="303.10" y1="345.70" x2="307.70" y2="345.70" stroke="#111" stroke-width="1.5"/>
<text transform="translate(287.37,350.30) scale(0.9006,1)" font-size="12.2" font-weight="bold" fill="#111">0.2</text>
<line x1="303.10" y1="378.40" x2="307.70" y2="378.40" stroke="#111" stroke-width="1.5"/>
<text transform="translate(287.62,383.00) scale(0.7932,1)" font-size="12.2" font-weight="bold" fill="#111">0.1</text>
<line x1="303.10" y1="411.10" x2="307.70" y2="411.10" stroke="#111" stroke-width="1.5"/>
<text transform="translate(287.37,415.70) scale(0.9013,1)" font-size="12.2" font-weight="bold" fill="#111">0.0</text>
<line x1="303.10" y1="443.80" x2="307.70" y2="443.80" stroke="#111" stroke-width="1.5"/>
<text transform="translate(283.60,448.40) scale(0.8314,1)" font-size="12.2" font-weight="bold" fill="#111">-0.1</text>
<line x1="303.10" y1="476.50" x2="307.70" y2="476.50" stroke="#111" stroke-width="1.5"/>
<text transform="translate(283.57,481.10) scale(0.9074,1)" font-size="12.2" font-weight="bold" fill="#111">-0.2</text>
<line x1="303.10" y1="509.20" x2="307.70" y2="509.20" stroke="#111" stroke-width="1.5"/>
<text transform="translate(283.57,513.80) scale(0.9052,1)" font-size="12.2" font-weight="bold" fill="#111">-0.3</text>
<line x1="303.10" y1="541.90" x2="307.70" y2="541.90" stroke="#111" stroke-width="1.5"/>
<text transform="translate(283.58,546.50) scale(0.8887,1)" font-size="12.2" font-weight="bold" fill="#111">-0.4</text>
<line x1="304.70" y1="362.05" x2="307.70" y2="362.05" stroke="#111" stroke-width="1.4"/>
<line x1="304.70" y1="394.75" x2="307.70" y2="394.75" stroke="#111" stroke-width="1.4"/>
<line x1="304.70" y1="427.45" x2="307.70" y2="427.45" stroke="#111" stroke-width="1.4"/>
<line x1="304.70" y1="460.15" x2="307.70" y2="460.15" stroke="#111" stroke-width="1.4"/>
<line x1="304.70" y1="492.85" x2="307.70" y2="492.85" stroke="#111" stroke-width="1.4"/>
<line x1="304.70" y1="525.55" x2="307.70" y2="525.55" stroke="#111" stroke-width="1.4"/>
<line x1="313.90" y1="549.50" x2="512.40" y2="549.50" stroke="#111" stroke-width="1.8"/>
<line x1="325.90" y1="549.50" x2="325.90" y2="552.10" stroke="#111" stroke-width="1.3"/>
<line x1="350.78" y1="549.50" x2="350.78" y2="552.10" stroke="#111" stroke-width="1.3"/>
<line x1="375.66" y1="549.50" x2="375.66" y2="552.10" stroke="#111" stroke-width="1.3"/>
<line x1="400.54" y1="549.50" x2="400.54" y2="552.10" stroke="#111" stroke-width="1.3"/>
<line x1="425.42" y1="549.50" x2="425.42" y2="552.10" stroke="#111" stroke-width="1.3"/>
<line x1="450.30" y1="549.50" x2="450.30" y2="552.10" stroke="#111" stroke-width="1.3"/>
<line x1="475.18" y1="549.50" x2="475.18" y2="552.10" stroke="#111" stroke-width="1.3"/>
<line x1="500.06" y1="549.50" x2="500.06" y2="552.10" stroke="#111" stroke-width="1.3"/>
<text transform="translate(319.47,562.20) scale(0.9351,1)" font-size="11.6" font-weight="bold" fill="#111">BL</text>
<text transform="translate(347.54,564.80) scale(0.9067,1)" font-size="10.9" font-weight="bold" fill="#111">0</text>
<text transform="translate(369.95,564.80) scale(0.8917,1)" font-size="10.9" font-weight="bold" fill="#111">10</text>
<text transform="translate(395.11,564.80) scale(0.8673,1)" font-size="10.9" font-weight="bold" fill="#111">20</text>
<text transform="translate(420.11,564.80) scale(0.8576,1)" font-size="10.9" font-weight="bold" fill="#111">30</text>
<text transform="translate(445.06,564.80) scale(0.8513,1)" font-size="10.9" font-weight="bold" fill="#111">40</text>
<text transform="translate(469.79,564.80) scale(0.8641,1)" font-size="10.9" font-weight="bold" fill="#111">50</text>
<text transform="translate(494.61,564.80) scale(0.8690,1)" font-size="10.9" font-weight="bold" fill="#111">60</text>
<line x1="309.50" y1="409.90" x2="510.20" y2="409.90" stroke="#2e2e2e" stroke-width="1.4" stroke-dasharray="3.5 1.6"/>
<line x1="328.24" y1="414.23" x2="344.36" y2="427.87" stroke="#111" stroke-width="1.55"/>
<line x1="352.45" y1="434.72" x2="369.15" y2="448.78" stroke="#111" stroke-width="1.55"/>
<line x1="378.40" y1="451.16" x2="417.80" y2="443.24" stroke="#111" stroke-width="1.55"/>
<line x1="428.04" y1="440.55" x2="491.56" y2="419.75" stroke="#111" stroke-width="1.55"/>
<line x1="332.71" y1="414.38" x2="349.59" y2="429.82" stroke="#111" stroke-width="1.55"/>
<line x1="357.98" y1="436.24" x2="373.92" y2="446.36" stroke="#111" stroke-width="1.55"/>
<line x1="383.70" y1="449.37" x2="422.80" y2="450.63" stroke="#111" stroke-width="1.55"/>
<line x1="433.39" y1="450.43" x2="496.61" y2="446.07" stroke="#111" stroke-width="1.55"/>
<line x1="330.36" y1="414.01" x2="347.34" y2="425.69" stroke="#111" stroke-width="1.55"/>
<line x1="356.46" y1="426.37" x2="371.04" y2="419.23" stroke="#111" stroke-width="1.55"/>
<line x1="381.10" y1="416.75" x2="420.00" y2="415.65" stroke="#111" stroke-width="1.55"/>
<line x1="430.45" y1="414.27" x2="494.45" y2="398.93" stroke="#111" stroke-width="1.55"/>
<line x1="351.70" y1="428.70" x2="351.70" y2="410.00" stroke="#222" stroke-width="1.25"/>
<line x1="348.10" y1="410.00" x2="355.30" y2="410.00" stroke="#222" stroke-width="1.3"/>
<line x1="375.80" y1="416.90" x2="375.80" y2="396.50" stroke="#222" stroke-width="1.25"/>
<line x1="372.20" y1="396.50" x2="379.40" y2="396.50" stroke="#222" stroke-width="1.3"/>
<line x1="425.30" y1="415.50" x2="425.30" y2="393.50" stroke="#222" stroke-width="1.25"/>
<line x1="421.70" y1="393.50" x2="428.90" y2="393.50" stroke="#222" stroke-width="1.3"/>
<line x1="499.60" y1="397.70" x2="499.60" y2="380.40" stroke="#222" stroke-width="1.25"/>
<line x1="496.00" y1="380.40" x2="503.20" y2="380.40" stroke="#222" stroke-width="1.3"/>
<line x1="353.50" y1="433.40" x2="353.50" y2="450.80" stroke="#222" stroke-width="1.25"/>
<line x1="349.90" y1="450.80" x2="357.10" y2="450.80" stroke="#222" stroke-width="1.3"/>
<line x1="378.40" y1="449.20" x2="378.40" y2="459.20" stroke="#222" stroke-width="1.25"/>
<line x1="374.80" y1="459.20" x2="382.00" y2="459.20" stroke="#222" stroke-width="1.3"/>
<line x1="428.10" y1="450.80" x2="428.10" y2="458.90" stroke="#222" stroke-width="1.25"/>
<line x1="424.50" y1="458.90" x2="431.70" y2="458.90" stroke="#222" stroke-width="1.3"/>
<line x1="501.90" y1="445.70" x2="501.90" y2="458.40" stroke="#222" stroke-width="1.25"/>
<line x1="498.30" y1="458.40" x2="505.50" y2="458.40" stroke="#222" stroke-width="1.3"/>
<line x1="348.40" y1="431.30" x2="348.40" y2="418.90" stroke="#222" stroke-width="1.25"/>
<line x1="344.80" y1="418.90" x2="352.00" y2="418.90" stroke="#222" stroke-width="1.3"/>
<line x1="373.20" y1="452.20" x2="373.20" y2="434.20" stroke="#222" stroke-width="1.25"/>
<line x1="369.60" y1="434.20" x2="376.80" y2="434.20" stroke="#222" stroke-width="1.3"/>
<line x1="423.00" y1="442.20" x2="423.00" y2="425.40" stroke="#222" stroke-width="1.25"/>
<line x1="419.40" y1="425.40" x2="426.60" y2="425.40" stroke="#222" stroke-width="1.3"/>
<line x1="496.60" y1="418.10" x2="496.60" y2="408.80" stroke="#222" stroke-width="1.25"/>
<line x1="493.00" y1="408.80" x2="500.20" y2="408.80" stroke="#222" stroke-width="1.3"/>
<circle cx="326.00" cy="411.00" r="3.05" fill="#8a8a8a" stroke="#1a1a1a" stroke-width="1.35"/>
<circle cx="351.70" cy="428.70" r="3.05" fill="#8a8a8a" stroke="#1a1a1a" stroke-width="1.35"/>
<circle cx="375.80" cy="416.90" r="3.05" fill="#8a8a8a" stroke="#1a1a1a" stroke-width="1.35"/>
<circle cx="425.30" cy="415.50" r="3.05" fill="#8a8a8a" stroke="#1a1a1a" stroke-width="1.35"/>
<circle cx="499.60" cy="397.70" r="3.05" fill="#8a8a8a" stroke="#1a1a1a" stroke-width="1.35"/>
<path d="M320.95,407.95H327.45L324.20,414.10Z" fill="#fff" stroke="#1a1a1a" stroke-width="1.35"/>
<path d="M345.15,428.45H351.65L348.40,434.60Z" fill="#fff" stroke="#1a1a1a" stroke-width="1.35"/>
<path d="M369.95,449.35H376.45L373.20,455.50Z" fill="#fff" stroke="#1a1a1a" stroke-width="1.35"/>
<path d="M419.75,439.35H426.25L423.00,445.50Z" fill="#fff" stroke="#1a1a1a" stroke-width="1.35"/>
<path d="M493.35,415.25H499.85L496.60,421.40Z" fill="#fff" stroke="#1a1a1a" stroke-width="1.35"/>
<rect x="325.80" y="407.80" width="6.00" height="6.00" fill="#8a8a8a" stroke="#1a1a1a" stroke-width="1.35"/>
<rect x="350.50" y="430.40" width="6.00" height="6.00" fill="#8a8a8a" stroke="#1a1a1a" stroke-width="1.35"/>
<rect x="375.40" y="446.20" width="6.00" height="6.00" fill="#8a8a8a" stroke="#1a1a1a" stroke-width="1.35"/>
<rect x="425.10" y="447.80" width="6.00" height="6.00" fill="#8a8a8a" stroke="#1a1a1a" stroke-width="1.35"/>
<rect x="498.90" y="442.70" width="6.00" height="6.00" fill="#8a8a8a" stroke="#1a1a1a" stroke-width="1.35"/>
<line x1="470.00" y1="493.40" x2="480.80" y2="493.40" stroke="#222" stroke-width="1.3"/>
<path d="M472.47,490.83H478.32L475.40,496.37Z" fill="#fff" stroke="#1a1a1a" stroke-width="1.35"/>
<text transform="translate(480.67,497.40) scale(0.8397,1)" font-size="12" font-weight="normal" fill="#2a2a2a">PBH4</text>
<line x1="470.00" y1="506.10" x2="480.80" y2="506.10" stroke="#222" stroke-width="1.3"/>
<rect x="472.16" y="502.86" width="6.48" height="6.48" fill="#8a8a8a" stroke="#1a1a1a" stroke-width="1.35"/>
<text transform="translate(480.66,510.10) scale(0.8542,1)" font-size="12" font-weight="normal" fill="#2a2a2a">PBH</text>
<line x1="470.00" y1="519.20" x2="480.80" y2="519.20" stroke="#222" stroke-width="1.3"/>
<circle cx="475.40" cy="519.20" r="3.29" fill="#8a8a8a" stroke="#1a1a1a" stroke-width="1.35"/>
<text transform="translate(481.04,523.20) scale(0.8457,1)" font-size="12" font-weight="normal" fill="#2a2a2a">Saline</text>
<line x1="307.80" y1="605.00" x2="307.80" y2="803.40" stroke="#111" stroke-width="1.8"/>
<line x1="303.20" y1="605.90" x2="307.80" y2="605.90" stroke="#111" stroke-width="1.5"/>
<text transform="translate(287.37,610.50) scale(0.9006,1)" font-size="12.2" font-weight="bold" fill="#111">0.2</text>
<line x1="303.20" y1="638.67" x2="307.80" y2="638.67" stroke="#111" stroke-width="1.5"/>
<text transform="translate(287.62,643.27) scale(0.7932,1)" font-size="12.2" font-weight="bold" fill="#111">0.1</text>
<line x1="303.20" y1="671.43" x2="307.80" y2="671.43" stroke="#111" stroke-width="1.5"/>
<text transform="translate(287.37,676.03) scale(0.9013,1)" font-size="12.2" font-weight="bold" fill="#111">0.0</text>
<line x1="303.20" y1="704.20" x2="307.80" y2="704.20" stroke="#111" stroke-width="1.5"/>
<text transform="translate(283.60,708.80) scale(0.8314,1)" font-size="12.2" font-weight="bold" fill="#111">-0.1</text>
<line x1="303.20" y1="736.97" x2="307.80" y2="736.97" stroke="#111" stroke-width="1.5"/>
<text transform="translate(283.57,741.57) scale(0.9074,1)" font-size="12.2" font-weight="bold" fill="#111">-0.2</text>
<line x1="303.20" y1="769.73" x2="307.80" y2="769.73" stroke="#111" stroke-width="1.5"/>
<text transform="translate(283.57,774.33) scale(0.9052,1)" font-size="12.2" font-weight="bold" fill="#111">-0.3</text>
<line x1="303.20" y1="802.50" x2="307.80" y2="802.50" stroke="#111" stroke-width="1.5"/>
<text transform="translate(283.58,807.10) scale(0.8887,1)" font-size="12.2" font-weight="bold" fill="#111">-0.4</text>
<line x1="304.80" y1="622.28" x2="307.80" y2="622.28" stroke="#111" stroke-width="1.4"/>
<line x1="304.80" y1="655.05" x2="307.80" y2="655.05" stroke="#111" stroke-width="1.4"/>
<line x1="304.80" y1="687.82" x2="307.80" y2="687.82" stroke="#111" stroke-width="1.4"/>
<line x1="304.80" y1="720.58" x2="307.80" y2="720.58" stroke="#111" stroke-width="1.4"/>
<line x1="304.80" y1="753.35" x2="307.80" y2="753.35" stroke="#111" stroke-width="1.4"/>
<line x1="304.80" y1="786.12" x2="307.80" y2="786.12" stroke="#111" stroke-width="1.4"/>
<line x1="314.20" y1="809.50" x2="512.40" y2="809.50" stroke="#111" stroke-width="1.8"/>
<line x1="325.90" y1="809.50" x2="325.90" y2="812.10" stroke="#111" stroke-width="1.3"/>
<line x1="350.78" y1="809.50" x2="350.78" y2="812.10" stroke="#111" stroke-width="1.3"/>
<line x1="375.66" y1="809.50" x2="375.66" y2="812.10" stroke="#111" stroke-width="1.3"/>
<line x1="400.54" y1="809.50" x2="400.54" y2="812.10" stroke="#111" stroke-width="1.3"/>
<line x1="425.42" y1="809.50" x2="425.42" y2="812.10" stroke="#111" stroke-width="1.3"/>
<line x1="450.30" y1="809.50" x2="450.30" y2="812.10" stroke="#111" stroke-width="1.3"/>
<line x1="475.18" y1="809.50" x2="475.18" y2="812.10" stroke="#111" stroke-width="1.3"/>
<line x1="500.06" y1="809.50" x2="500.06" y2="812.10" stroke="#111" stroke-width="1.3"/>
<text transform="translate(319.47,822.20) scale(0.9351,1)" font-size="11.6" font-weight="bold" fill="#111">BL</text>
<text transform="translate(347.54,825.00) scale(0.9067,1)" font-size="10.9" font-weight="bold" fill="#111">0</text>
<text transform="translate(369.95,825.00) scale(0.8917,1)" font-size="10.9" font-weight="bold" fill="#111">10</text>
<text transform="translate(395.11,825.00) scale(0.8673,1)" font-size="10.9" font-weight="bold" fill="#111">20</text>
<text transform="translate(420.11,825.00) scale(0.8576,1)" font-size="10.9" font-weight="bold" fill="#111">30</text>
<text transform="translate(445.06,825.00) scale(0.8513,1)" font-size="10.9" font-weight="bold" fill="#111">40</text>
<text transform="translate(469.79,825.00) scale(0.8641,1)" font-size="10.9" font-weight="bold" fill="#111">50</text>
<text transform="translate(494.61,825.00) scale(0.8690,1)" font-size="10.9" font-weight="bold" fill="#111">60</text>
<line x1="309.50" y1="670.00" x2="509.60" y2="670.00" stroke="#2e2e2e" stroke-width="1.4" stroke-dasharray="3.5 1.6"/>
<line x1="335.29" y1="673.26" x2="349.41" y2="679.94" stroke="#111" stroke-width="1.55"/>
<line x1="359.49" y1="682.55" x2="373.21" y2="683.45" stroke="#111" stroke-width="1.55"/>
<line x1="383.20" y1="681.36" x2="422.70" y2="660.84" stroke="#111" stroke-width="1.55"/>
<line x1="432.38" y1="660.22" x2="496.72" y2="683.78" stroke="#111" stroke-width="1.55"/>
<line x1="327.00" y1="674.68" x2="343.50" y2="689.02" stroke="#111" stroke-width="1.55"/>
<line x1="351.56" y1="695.90" x2="367.94" y2="709.60" stroke="#111" stroke-width="1.55"/>
<line x1="377.20" y1="711.96" x2="416.10" y2="704.14" stroke="#111" stroke-width="1.55"/>
<line x1="426.34" y1="701.46" x2="489.46" y2="680.94" stroke="#111" stroke-width="1.55"/>
<line x1="329.30" y1="675.80" x2="348.70" y2="707.00" stroke="#111" stroke-width="1.55"/>
<line x1="356.32" y1="709.30" x2="371.48" y2="702.40" stroke="#111" stroke-width="1.55"/>
<line x1="381.60" y1="700.09" x2="420.20" y2="699.31" stroke="#111" stroke-width="1.55"/>
<line x1="430.55" y1="697.59" x2="494.25" y2="677.21" stroke="#111" stroke-width="1.55"/>
<line x1="330.39" y1="674.38" x2="347.41" y2="685.92" stroke="#111" stroke-width="1.55"/>
<line x1="356.58" y1="686.62" x2="371.12" y2="679.68" stroke="#111" stroke-width="1.55"/>
<line x1="381.20" y1="677.26" x2="419.80" y2="676.24" stroke="#111" stroke-width="1.55"/>
<line x1="430.25" y1="674.83" x2="493.85" y2="659.17" stroke="#111" stroke-width="1.55"/>
<line x1="351.80" y1="688.90" x2="351.80" y2="670.70" stroke="#222" stroke-width="1.25"/>
<line x1="348.20" y1="670.70" x2="355.40" y2="670.70" stroke="#222" stroke-width="1.3"/>
<line x1="375.90" y1="677.40" x2="375.90" y2="656.90" stroke="#222" stroke-width="1.25"/>
<line x1="372.30" y1="656.90" x2="379.50" y2="656.90" stroke="#222" stroke-width="1.3"/>
<line x1="425.10" y1="676.10" x2="425.10" y2="654.50" stroke="#222" stroke-width="1.25"/>
<line x1="421.50" y1="654.50" x2="428.70" y2="654.50" stroke="#222" stroke-width="1.3"/>
<line x1="499.00" y1="657.90" x2="499.00" y2="640.60" stroke="#222" stroke-width="1.25"/>
<line x1="495.40" y1="640.60" x2="502.60" y2="640.60" stroke="#222" stroke-width="1.3"/>
<line x1="351.50" y1="711.50" x2="351.50" y2="727.70" stroke="#222" stroke-width="1.25"/>
<line x1="347.90" y1="727.70" x2="355.10" y2="727.70" stroke="#222" stroke-width="1.3"/>
<line x1="376.30" y1="700.20" x2="376.30" y2="717.30" stroke="#222" stroke-width="1.25"/>
<line x1="372.70" y1="717.30" x2="379.90" y2="717.30" stroke="#222" stroke-width="1.3"/>
<line x1="425.50" y1="699.20" x2="425.50" y2="714.10" stroke="#222" stroke-width="1.25"/>
<line x1="421.90" y1="714.10" x2="429.10" y2="714.10" stroke="#222" stroke-width="1.3"/>
<line x1="499.30" y1="675.60" x2="499.30" y2="701.00" stroke="#222" stroke-width="1.25"/>
<line x1="495.70" y1="701.00" x2="502.90" y2="701.00" stroke="#222" stroke-width="1.3"/>
<line x1="347.50" y1="692.50" x2="347.50" y2="680.30" stroke="#222" stroke-width="1.25"/>
<line x1="343.90" y1="680.30" x2="351.10" y2="680.30" stroke="#222" stroke-width="1.3"/>
<line x1="372.00" y1="713.00" x2="372.00" y2="694.40" stroke="#222" stroke-width="1.25"/>
<line x1="368.40" y1="694.40" x2="375.60" y2="694.40" stroke="#222" stroke-width="1.3"/>
<line x1="421.30" y1="703.10" x2="421.30" y2="686.40" stroke="#222" stroke-width="1.25"/>
<line x1="417.70" y1="686.40" x2="424.90" y2="686.40" stroke="#222" stroke-width="1.3"/>
<line x1="494.50" y1="679.30" x2="494.50" y2="669.40" stroke="#222" stroke-width="1.25"/>
<line x1="490.90" y1="669.40" x2="498.10" y2="669.40" stroke="#222" stroke-width="1.3"/>
<line x1="354.20" y1="682.20" x2="354.20" y2="660.10" stroke="#222" stroke-width="1.25"/>
<line x1="350.60" y1="660.10" x2="357.80" y2="660.10" stroke="#222" stroke-width="1.3"/>
<line x1="378.50" y1="683.80" x2="378.50" y2="670.20" stroke="#222" stroke-width="1.25"/>
<line x1="374.90" y1="670.20" x2="382.10" y2="670.20" stroke="#222" stroke-width="1.3"/>
<line x1="427.40" y1="658.40" x2="427.40" y2="631.30" stroke="#222" stroke-width="1.25"/>
<line x1="423.80" y1="631.30" x2="431.00" y2="631.30" stroke="#222" stroke-width="1.3"/>
<line x1="501.70" y1="685.60" x2="501.70" y2="661.70" stroke="#222" stroke-width="1.25"/>
<line x1="498.10" y1="661.70" x2="505.30" y2="661.70" stroke="#222" stroke-width="1.3"/>
<circle cx="326.00" cy="671.40" r="3.05" fill="#8a8a8a" stroke="#1a1a1a" stroke-width="1.35"/>
<circle cx="351.80" cy="688.90" r="3.05" fill="#8a8a8a" stroke="#1a1a1a" stroke-width="1.35"/>
<circle cx="375.90" cy="677.40" r="3.05" fill="#8a8a8a" stroke="#1a1a1a" stroke-width="1.35"/>
<circle cx="425.10" cy="676.10" r="3.05" fill="#8a8a8a" stroke="#1a1a1a" stroke-width="1.35"/>
<circle cx="499.00" cy="657.90" r="3.05" fill="#8a8a8a" stroke="#1a1a1a" stroke-width="1.35"/>
<path d="M319.75,668.35H326.25L323.00,674.50Z" fill="#fff" stroke="#1a1a1a" stroke-width="1.35"/>
<path d="M344.25,689.65H350.75L347.50,695.80Z" fill="#fff" stroke="#1a1a1a" stroke-width="1.35"/>
<path d="M368.75,710.15H375.25L372.00,716.30Z" fill="#fff" stroke="#1a1a1a" stroke-width="1.35"/>
<path d="M418.05,700.25H424.55L421.30,706.40Z" fill="#fff" stroke="#1a1a1a" stroke-width="1.35"/>
<path d="M491.25,676.45H497.75L494.50,682.60Z" fill="#fff" stroke="#1a1a1a" stroke-width="1.35"/>
<path d="M330.50,667.15L334.35,671.00L330.50,674.85L326.65,671.00Z" fill="#8a8a8a" stroke="#1a1a1a" stroke-width="1.35"/>
<path d="M354.20,678.35L358.05,682.20L354.20,686.05L350.35,682.20Z" fill="#8a8a8a" stroke="#1a1a1a" stroke-width="1.35"/>
<path d="M378.50,679.95L382.35,683.80L378.50,687.65L374.65,683.80Z" fill="#8a8a8a" stroke="#1a1a1a" stroke-width="1.35"/>
<path d="M427.40,654.55L431.25,658.40L427.40,662.25L423.55,658.40Z" fill="#8a8a8a" stroke="#1a1a1a" stroke-width="1.35"/>
<path d="M501.70,681.75L505.55,685.60L501.70,689.45L497.85,685.60Z" fill="#8a8a8a" stroke="#1a1a1a" stroke-width="1.35"/>
<path d="M323.25,674.15H329.75L326.50,668.00Z" fill="#fff" stroke="#1a1a1a" stroke-width="1.35"/>
<path d="M348.25,714.35H354.75L351.50,708.20Z" fill="#fff" stroke="#1a1a1a" stroke-width="1.35"/>
<path d="M373.05,703.05H379.55L376.30,696.90Z" fill="#fff" stroke="#1a1a1a" stroke-width="1.35"/>
<path d="M422.25,702.05H428.75L425.50,695.90Z" fill="#fff" stroke="#1a1a1a" stroke-width="1.35"/>
<path d="M496.05,678.45H502.55L499.30,672.30Z" fill="#fff" stroke="#1a1a1a" stroke-width="1.35"/>
<line x1="468.40" y1="741.40" x2="478.80" y2="741.40" stroke="#222" stroke-width="1.3"/>
<path d="M473.60,737.65L478.15,741.40L473.60,745.15L469.05,741.40Z" fill="#8a8a8a" stroke="#1a1a1a" stroke-width="1.35"/>
<text transform="translate(479.24,745.40) scale(1.2895,1)" font-size="11.5" font-weight="normal" fill="#777" style="font-family:'Liberation Serif',serif">&#945;&#945;</text>
<text transform="translate(494.20,745.40) scale(0.8562,1)" font-size="12" font-weight="normal" fill="#2a2a2a">Hb</text>
<line x1="468.40" y1="753.90" x2="478.80" y2="753.90" stroke="#222" stroke-width="1.3"/>
<path d="M470.68,751.33H476.53L473.60,756.87Z" fill="#fff" stroke="#1a1a1a" stroke-width="1.35"/>
<text transform="translate(478.99,757.90) scale(0.8263,1)" font-size="12" font-weight="normal" fill="#2a2a2a">PBH4</text>
<line x1="468.40" y1="767.00" x2="478.80" y2="767.00" stroke="#222" stroke-width="1.3"/>
<path d="M470.68,769.57H476.53L473.60,764.03Z" fill="#fff" stroke="#1a1a1a" stroke-width="1.35"/>
<text transform="translate(478.97,771.00) scale(0.8441,1)" font-size="12" font-weight="normal" fill="#2a2a2a">MP4</text>
<line x1="468.40" y1="780.20" x2="478.80" y2="780.20" stroke="#222" stroke-width="1.3"/>
<circle cx="473.60" cy="780.20" r="3.29" fill="#8a8a8a" stroke="#1a1a1a" stroke-width="1.35"/>
<text transform="translate(479.34,784.20) scale(0.8395,1)" font-size="12" font-weight="normal" fill="#2a2a2a">Saline</text>
</svg></body></html>
